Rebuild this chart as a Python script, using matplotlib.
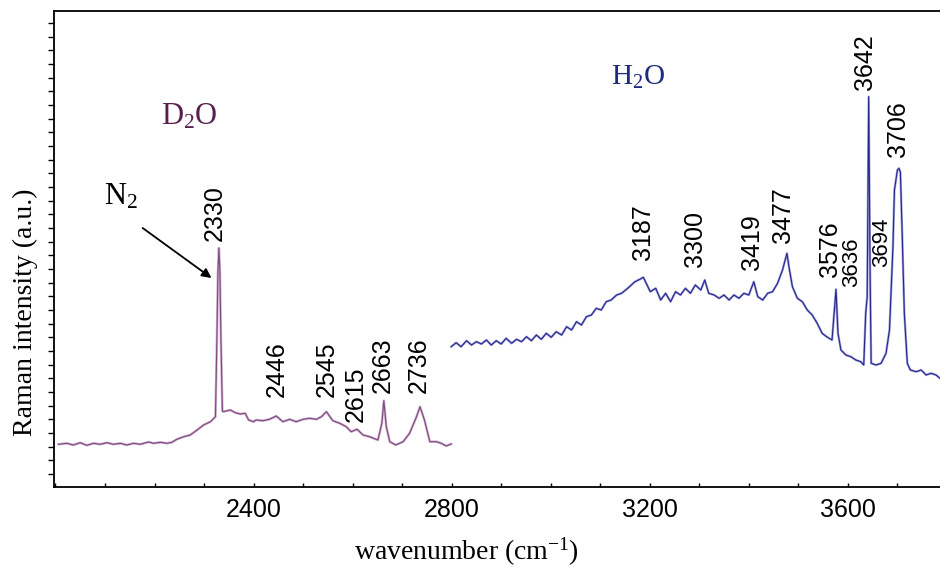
import matplotlib
matplotlib.use("Agg")
import matplotlib.pyplot as plt
from matplotlib.ticker import MultipleLocator, FixedLocator

# D2O spectrum (wavenumber, intensity a.u.)
d2o_wn = [2006, 2023, 2036, 2050, 2063, 2077, 2090, 2104, 2117, 2131, 2144, 2158,
          2171, 2188, 2198, 2212, 2225, 2235, 2245, 2259, 2272, 2286, 2299, 2313,
          2323, 2326, 2328, 2330, 2332, 2334, 2337, 2339, 2353, 2363, 2373, 2383,
          2390, 2400, 2405, 2419, 2432, 2446, 2459, 2473, 2486, 2500, 2513, 2527,
          2537, 2547, 2560, 2574, 2587, 2597, 2609, 2621, 2634, 2651, 2659, 2663,
          2668, 2675, 2687, 2702, 2715, 2729, 2736, 2745, 2756, 2769, 2779, 2789,
          2799]
d2o_int = [42.7, 43.7, 42.0, 44.3, 41.7, 43.7, 42.7, 44.3, 42.7, 43.7, 42.0, 43.7,
           42.7, 45.0, 43.7, 44.7, 43.7, 44.7, 47.7, 50.3, 52.0, 57.0, 62.0, 65.3,
           70.3, 150, 215, 239, 215, 150, 76, 75.3, 77.0, 74.3, 73.0, 73.7,
           67.0, 65.3, 67.0, 66.3, 67.7, 71.0, 65.3, 67.7, 65.3, 67.7, 68.7, 67.7,
           70.3, 75.3, 66.3, 63.7, 60.3, 55.3, 57.7, 52.0, 50.3, 47.0, 63.7, 86.3,
           60.3, 45.3, 42.0, 45.3, 53.7, 70.3, 80.3, 67.0, 45.3, 45.3, 43.7, 41.0,
           43.0]

# H2O spectrum (wavenumber, intensity a.u.)
h2o_wn = [2799, 2809, 2819, 2830, 2840, 2850, 2860, 2870, 2880, 2890, 2900, 2910,
          2921, 2931, 2941, 2951, 2961, 2971, 2981, 2991, 3001, 3011, 3022, 3032,
          3042, 3052, 3062, 3072, 3082, 3092, 3102, 3112, 3122, 3133, 3143, 3153,
          3159, 3170, 3180, 3187, 3201, 3212, 3222, 3232, 3242, 3252, 3262, 3272,
          3282, 3292, 3303, 3311, 3319, 3330, 3340, 3350, 3360, 3370, 3380, 3390,
          3400, 3410, 3418, 3428, 3438, 3448, 3458, 3468, 3477, 3481, 3488, 3498,
          3508, 3518, 3528, 3538, 3548, 3557, 3568, 3576, 3580, 3586, 3596, 3606,
          3616, 3626, 3632, 3636, 3639, 3642, 3645, 3647, 3657, 3667, 3677, 3684,
          3691, 3694, 3700, 3703, 3706, 3710, 3714, 3720, 3726, 3738, 3748, 3758,
          3768, 3778, 3786]
h2o_int = [140.3, 144.3, 140.3, 146.3, 142.0, 145.3, 143.0, 147.0, 142.0, 146.3, 143.0, 148.7,
           143.7, 147.7, 145.3, 150.3, 146.3, 152.0, 147.7, 153.7, 149.7, 155.3, 152.0, 160.3,
           157.0, 165.3, 162.0, 170.3, 172.0, 178.7, 177.0, 185.3, 187.0, 192.0, 193.7, 197.7,
           200.3, 205.3, 207.7, 209.7, 195.3, 198.7, 187.0, 193.7, 185.3, 195.3, 192.0, 198.7,
           193.7, 202.0, 197.0, 207.0, 193.7, 192.0, 188.7, 192.0, 187.0, 192.0, 188.7, 193.7,
           192.0, 205.3, 190.3, 187.0, 193.7, 195.3, 203.7, 217.0, 233.7, 220.3, 200.3, 188.7,
           185.3, 177.0, 172.0, 163.7, 153.7, 150.3, 147.0, 197.7, 153.7, 137.0, 132.0, 130.3,
           127.0, 125.3, 122.0, 173.7, 190.3, 390.3, 207.0, 123.7, 122.0, 123.7, 133.7, 157.0,
           240.3, 297.0, 317.0, 318.7, 315.0, 247.0, 173.7, 123.7, 117.0, 115.3, 117.0, 112.0,
           113.7, 112.0, 108.7]

d2o_peaks = ["2330", "2446", "2545", "2615", "2663", "2736"]
h2o_peaks = ["3187", "3300", "3419", "3477", "3576", "3636", "3694", "3642", "3706"]

# label placement (x in cm-1, y at the lower end of the rotated text)
d2o_label_xy = [(2321, 246), (2446, 90), (2547, 90), (2606, 65), (2661, 94), (2733, 94)]
h2o_label_xy = [(3186, 227), (3291, 220), (3406, 217), (3469, 244), (3563, 210),
                (3608, 200), (3669, 220), (3634, 397), (3701, 330)]
small_labels = ["3636", "3694"]

SANS = "Liberation Sans"
SERIF = "Liberation Serif"

fig = plt.figure(figsize=(9.4, 5.73), dpi=100)
ax = fig.add_axes([54 / 940, 86 / 573, 1 - 54 / 940, 476 / 573])

ax.plot(d2o_wn, d2o_int, color="#cfb0cf", lw=1.8, solid_joinstyle="round")
ax.plot(d2o_wn, d2o_int, color="#7d4a7d", lw=0.8)
ax.plot(h2o_wn, h2o_int, color="#a5a5dc", lw=1.7, solid_joinstyle="round")
ax.plot(h2o_wn, h2o_int, color="#26268c", lw=0.8)

ax.set_xlim(1997, 3786)
ax.set_ylim(0, 476)

ax.xaxis.set_major_locator(FixedLocator([2400, 2800, 3200, 3600]))
ax.xaxis.set_minor_locator(MultipleLocator(100))
ax.tick_params(axis="x", which="both", direction="in", length=3, width=1, pad=8,
               labelsize=18)
for lab in ax.get_xticklabels():
    lab.set_fontfamily(SANS)

yt = [13 + k * 13.67 for k in range(34)]
ax.yaxis.set_major_locator(FixedLocator(yt))
ax.tick_params(axis="y", which="both", direction="out", length=4, width=1,
               labelleft=False)

ax.spines["right"].set_visible(False)
for s in ["top", "left", "bottom"]:
    ax.spines[s].set_linewidth(1.3)

for txt, (x, y) in zip(d2o_peaks + h2o_peaks, d2o_label_xy + h2o_label_xy):
    fs = 16 if txt in small_labels else 18
    ax.text(x, y, txt, rotation=90, ha="center", va="bottom", fontsize=fs,
            fontfamily=SANS, color="black")

ax.text(2271, 370, r"$\mathregular{D_2O}$", fontsize=22, fontfamily=SERIF,
        color="#5a1e4c", ha="center", va="center")
ax.text(3176, 410, r"$\mathregular{H_2O}$", fontsize=21, fontfamily=SERIF,
        color="#1e2a7e", ha="center", va="center")
ax.text(2133, 290, r"$\mathregular{N_2}$", fontsize=22, fontfamily=SERIF,
        color="black", ha="center", va="center")
ax.annotate("", xy=(2315, 209), xytext=(2176, 259),
            arrowprops=dict(arrowstyle="-|>", color="black", lw=1.3,
                            mutation_scale=14, shrinkA=0, shrinkB=0))

fig.text(466 / 940, 1 - 552 / 573, r"wavenumber (cm$\mathregular{^{-1}}$)",
         fontsize=20, fontfamily=SERIF, ha="center", va="center")
fig.text(25 / 940, 1 - 312 / 573, "Raman intensity (a.u.)", rotation=90,
         fontsize=20, fontfamily=SERIF, ha="center", va="center")

fig.savefig("out.png", dpi=100)
